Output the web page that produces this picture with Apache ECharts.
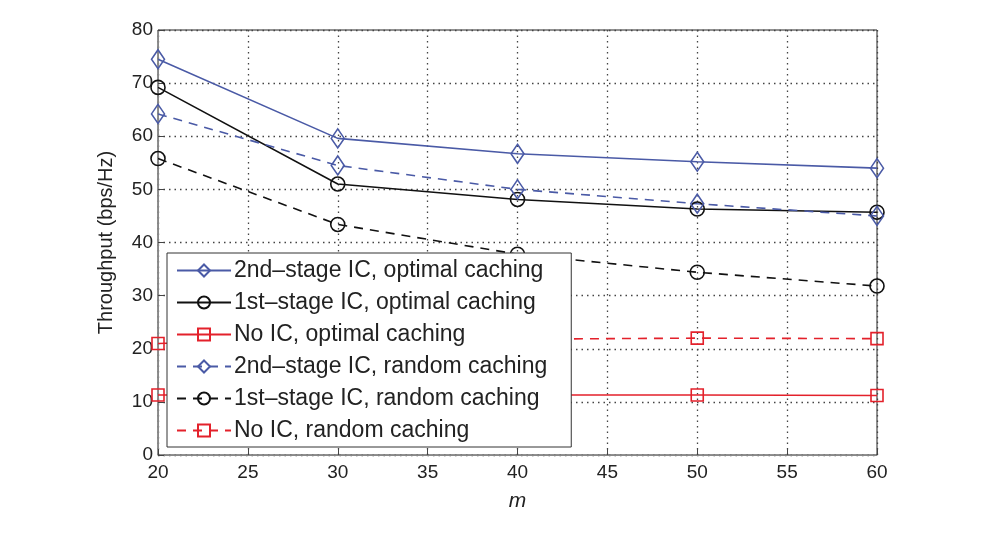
<!DOCTYPE html>
<html><head><meta charset="utf-8">
<script src="https://cdn.jsdelivr.net/npm/echarts@6/dist/echarts.min.js"></script>
<style>html,body{margin:0;padding:0;background:#fff}#c{width:989px;height:535px}</style>
</head><body><div id="c"></div>
<script>
const mValues = [20, 30, 40, 50, 60];
const secondOpt = [74.5, 59.6, 56.7, 55.2, 54.0];
const firstOpt = [69.2, 51.0, 48.1, 46.3, 45.7];
const noIcOpt = [11.3, 11.3, 11.3, 11.3, 11.2];
const secondRand = [64.2, 54.5, 50.0, 47.3, 45.0];
const firstRand = [55.8, 43.4, 37.8, 34.4, 31.8];
const noIcRand = [21.0, 21.5, 21.8, 22.0, 21.9];
const names = ['2nd\u2013stage IC, optimal caching','1st\u2013stage IC, optimal caching','No IC, optimal caching','2nd\u2013stage IC, random caching','1st\u2013stage IC, random caching','No IC, random caching'];
const BLUE = '#4a5aa6', RED = '#e3212b', BLACK = '#111';
function ser(name, data, color, type, symbol, size) {
  return {
    name, type: 'line', data: mValues.map((m, i) => [m, data[i]]),
    symbol, symbolSize: size, showSymbol: true,
    lineStyle: { color, width: 1.6, type },
    itemStyle: { color: 'rgba(255,255,255,0)', borderColor: color, borderWidth: 1.6 },
    emphasis: { disabled: true }
  };
}
const chart = echarts.init(document.getElementById('c'));
const font = 'Liberation Sans, Arial, sans-serif';
chart.setOption({
  animation: false,
  grid: { left: 158, right: 112, top: 30, bottom: 80, show: true, borderColor: '#222', borderWidth: 1 },
  xAxis: {
    type: 'value', min: 20, max: 60, interval: 5,
    name: 'm', nameLocation: 'middle', nameGap: 36,
    nameTextStyle: { fontStyle: 'italic', fontSize: 21, color: '#222', fontFamily: font },
    axisLine: { lineStyle: { color: '#888' } },
    axisTick: { inside: true, length: 6, lineStyle: { color: '#444' } },
    axisLabel: { fontSize: 19, color: '#222', fontFamily: font, margin: 8 },
    splitLine: { show: true, lineStyle: { type: [1.5, 4], color: '#444', width: 1.3 } }
  },
  yAxis: {
    type: 'value', min: 0, max: 80, interval: 10,
    name: 'Throughput (bps/Hz)', nameLocation: 'middle', nameGap: 42,
    nameTextStyle: { fontSize: 20, color: '#222', fontFamily: font },
    axisLine: { lineStyle: { color: '#888' } },
    axisTick: { inside: true, length: 6, lineStyle: { color: '#444' } },
    axisLabel: { fontSize: 19, color: '#222', fontFamily: font, margin: 5 },
    splitLine: { show: true, lineStyle: { type: [1.5, 4], color: '#444', width: 1.3 } }
  },
  legend: {
    orient: 'vertical', left: 167, top: 253, width: 420,
    backgroundColor: '#fff', borderColor: '#333', borderWidth: 1,
    padding: [6, 24, 5, 9], itemGap: 9, itemWidth: 54, itemHeight: 15,
    textStyle: { fontSize: 23, color: '#222', fontFamily: font, padding: [0, 0, 0, -2] },
    data: names
  },
  series: [
    ser(names[0], secondOpt, BLUE, 'solid', 'diamond', [13, 19]),
    ser(names[1], firstOpt, BLACK, 'solid', 'circle', 14),
    ser(names[2], noIcOpt, RED, 'solid', 'rect', 12),
    ser(names[3], secondRand, BLUE, [9, 7], 'diamond', [13, 19]),
    ser(names[4], firstRand, BLACK, [9, 7], 'circle', 14),
    ser(names[5], noIcRand, RED, [9, 7], 'rect', 12)
  ]
});
</script></body></html>
